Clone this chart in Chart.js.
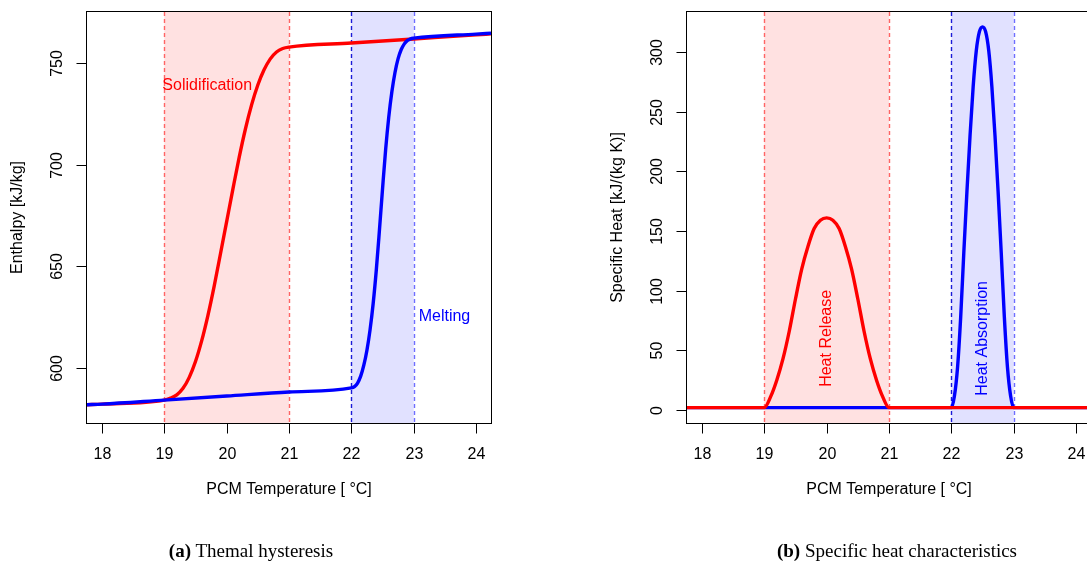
<!DOCTYPE html>
<html>
<head>
<meta charset="utf-8">
<title>PCM hysteresis</title>
<script src="https://cdn.jsdelivr.net/npm/chart.js@4.4.1/dist/chart.umd.min.js"></script>
<style>
    html, body { margin: 0; padding: 0; background: #fff; overflow: hidden; width: 1087px; height: 567px; }
    .panel { position: absolute; top: 0; width: 543px; height: 567px; }
    #panelA { left: 0; }
    #panelB { left: 600px; }
    .caption {
        position: absolute; top: 539px; white-space: nowrap;
        font-family: "Liberation Serif", "Times New Roman", serif; font-size: 19px; color: #000;
        transform: translateX(-50%); line-height: 24px;
    }
</style>
</head>
<body>
<div class="panel" id="panelA"><canvas id="enthalpyChart" width="543" height="567"></canvas></div>
<div class="panel" id="panelB"><canvas id="cpChart" width="543" height="567"></canvas></div>
<div class="caption" style="left:251px;"><b>(a)</b> Themal hysteresis</div>
<div class="caption" style="left:897px;"><b>(b)</b> Specific heat characteristics</div>

<script>
// ── Tick labels ──────────────────────────────────────────────
const TICKS_TEMP     = [18, 19, 20, 21, 22, 23, 24];
const TICKS_ENTHALPY = [600, 650, 700, 750];
const TICKS_CP       = [0, 50, 100, 150, 200, 250, 300];

// ── Phase change ranges [°C] ─────────────────────────────────
const RANGE_SOLID = [19, 21];
const RANGE_MELT  = [22, 23];

// ── (a) Enthalpy, heating branch (melting) ───────────────────
const TEMP_MELT = [17.76, 18, 19, 20, 21, 22,
    22.05, 22.1, 22.15, 22.2, 22.25, 22.3, 22.35, 22.4, 22.45, 22.5,
    22.55, 22.6, 22.65, 22.7, 22.75, 22.8, 22.85, 22.9, 22.95,
    23, 24, 24.24];
const ENTH_MELT = [581.7, 582, 584, 586, 588, 590,
    590.6, 592.4, 595.8, 601.2, 608.6, 618.6, 631.6, 648, 667.5, 688,
    707.5, 723.5, 736, 745.5, 752.3, 756.8, 759.6, 761.3, 762.1,
    762.4, 764.4, 764.8];

// ── (a) Enthalpy, cooling branch (solidification) ────────────
const TEMP_SOLID = [17.76, 18, 19,
    19.1, 19.2, 19.3, 19.4, 19.5, 19.6, 19.7, 19.8, 19.9, 20,
    20.1, 20.2, 20.3, 20.4, 20.5, 20.6, 20.7, 20.8, 20.9,
    21, 22, 23, 24, 24.24];
const ENTH_SOLID = [581.7, 582, 584,
    585, 586.6, 589.8, 595.2, 603, 613.3, 625.8, 640.2, 656, 672,
    688, 703.5, 717.5, 729.5, 739.3, 746.8, 752.2, 755.6, 757.3,
    758, 760, 762, 764, 764.5];

// ── (b) Specific heat, melting ───────────────────────────────
const TEMP_CP_MELT = [17.76, 22,
    22.05, 22.1, 22.15, 22.2, 22.25, 22.3, 22.35, 22.4, 22.45, 22.5,
    22.55, 22.6, 22.65, 22.7, 22.75, 22.8, 22.85, 22.9, 22.95,
    23, 24.24];
const CP_MELT = [2, 2,
    12, 36, 78, 132, 183, 230, 271, 301, 317, 321,
    317, 301, 271, 230, 183, 132, 78, 36, 12,
    2, 2];

// ── (b) Specific heat, solidification ────────────────────────
const TEMP_CP_SOLID = [17.76, 19,
    19.1, 19.2, 19.3, 19.4, 19.5, 19.6, 19.7, 19.8, 19.9, 20,
    20.1, 20.2, 20.3, 20.4, 20.5, 20.6, 20.7, 20.8, 20.9,
    21, 24.24];
const CP_SOLID = [2, 2,
    11, 25, 43, 66, 93, 118, 137, 152, 159, 161,
    159, 152, 137, 118, 93, 66, 43, 25, 11,
    2, 2];

const FONT_SANS = '"Liberation Sans", Arial, Helvetica, sans-serif';
const RED  = '#ff0000';
const BLUE = '#0000ff';

function toPoints(xs, ys) {
    return xs.map((x, i) => ({ x: x, y: ys[i] }));
}

function curve(xs, ys, color) {
    return {
        data: toPoints(xs, ys),
        borderColor: color,
        borderWidth: 3.4,
        cubicInterpolationMode: 'monotone',
        pointRadius: 0,
        fill: false
    };
}

// ── Plugin: shaded ranges, dashed limits, R-style axes ───────
function panelPlugin(p) {
    return {
        id: 'panel',
        beforeDatasetsDraw(chart) {
            const { ctx, chartArea: a, scales: { x } } = chart;
            ctx.save();
            p.bands.forEach(b => {
                const x0 = x.getPixelForValue(b.range[0]);
                const x1 = x.getPixelForValue(b.range[1]);
                ctx.fillStyle = b.fill;
                ctx.fillRect(x0, a.top, x1 - x0, a.bottom - a.top);
            });
            ctx.lineWidth = 1.4;
            ctx.setLineDash([4, 3]);
            p.limits.forEach(l => {
                const px = Math.round(x.getPixelForValue(l.value)) + 0.5;
                ctx.strokeStyle = l.color;
                ctx.beginPath();
                ctx.moveTo(px, a.top);
                ctx.lineTo(px, a.bottom);
                ctx.stroke();
            });
            ctx.restore();
        },
        afterDatasetsDraw(chart) {
            const { ctx, chartArea: a, scales: { x, y } } = chart;
            ctx.save();

            // annotations
            p.notes.forEach(n => {
                ctx.save();
                ctx.font = '16px ' + FONT_SANS;
                ctx.fillStyle = n.color;
                ctx.translate(x.getPixelForValue(n.x) + (n.dx || 0), y.getPixelForValue(n.y));
                if (n.rotate) ctx.rotate(-Math.PI / 2);
                ctx.textAlign = n.align;
                ctx.textBaseline = 'middle';
                ctx.fillText(n.text, 0, 0);
                ctx.restore();
            });

            // box
            ctx.strokeStyle = '#000';
            ctx.lineWidth = 1;
            ctx.setLineDash([]);
            const L = Math.round(a.left) - 0.5, T = Math.round(a.top) - 0.5;
            const R = Math.round(a.right) + 0.5, B = Math.round(a.bottom) + 0.5;
            ctx.strokeRect(L, T, R - L, B - T);

            ctx.fillStyle = '#000';
            ctx.font = '16px ' + FONT_SANS;

            // x axis ticks + labels
            ctx.textAlign = 'center';
            ctx.textBaseline = 'middle';
            TICKS_TEMP.forEach(t => {
                const px = Math.round(x.getPixelForValue(t)) + 0.5;
                ctx.beginPath();
                ctx.moveTo(px, B);
                ctx.lineTo(px, B + 10);
                ctx.stroke();
                ctx.fillText(String(t), px, 455);
            });

            // y axis ticks + labels (rotated, R style)
            p.yTicks.forEach(t => {
                const py = Math.round(y.getPixelForValue(t)) + 0.5;
                ctx.beginPath();
                ctx.moveTo(L, py);
                ctx.lineTo(L - 10, py);
                ctx.stroke();
                ctx.save();
                ctx.translate(58, py);
                ctx.rotate(-Math.PI / 2);
                ctx.fillText(String(t), 0, 0);
                ctx.restore();
            });

            // axis titles
            ctx.fillText('PCM Temperature [ \u00B0C]', (a.left + a.right) / 2, 490);
            ctx.save();
            ctx.translate(18, (a.top + a.bottom) / 2);
            ctx.rotate(-Math.PI / 2);
            ctx.fillText(p.yTitle, 0, 0);
            ctx.restore();

            ctx.restore();
        }
    };
}

function makePanel(canvasId, p) {
    return new Chart(document.getElementById(canvasId), {
        type: 'line',
        data: { datasets: p.datasets },
        options: {
            responsive: false,
            animation: false,
            events: [],
            layout: { padding: { left: 87, top: 12, right: 52, bottom: 144 } },
            plugins: { legend: { display: false }, tooltip: { enabled: false } },
            scales: {
                x: { type: 'linear', display: false, min: 17.76, max: 24.24 },
                y: { type: 'linear', display: false, min: p.yMin, max: p.yMax }
            }
        },
        plugins: [panelPlugin(p)]
    });
}

const BANDS = [
    { range: RANGE_SOLID, fill: '#ffe1e1' },
    { range: RANGE_MELT,  fill: '#e1e1ff' }
];
const LIMITS = [
    { value: RANGE_SOLID[0], color: '#ff6464' },
    { value: RANGE_SOLID[1], color: '#ff6464' },
    { value: RANGE_MELT[0],  color: '#1a1ad8' },
    { value: RANGE_MELT[1],  color: '#6e6eff' }
];

// ── (a) Thermal hysteresis ───────────────────────────────────
makePanel('enthalpyChart', {
    yMin: 572.7, yMax: 775.3,
    yTicks: TICKS_ENTHALPY,
    yTitle: 'Enthalpy [kJ/kg]',
    bands: BANDS, limits: LIMITS,
    notes: [
        { text: 'Solidification', x: 19, dx: -2, y: 739, color: RED, align: 'left' },
        { text: 'Melting', x: 23, dx: 5, y: 625, color: BLUE, align: 'left' }
    ],
    datasets: [
        curve(TEMP_MELT, ENTH_MELT, BLUE),
        curve(TEMP_SOLID, ENTH_SOLID, RED)
    ]
});

// ── (b) Specific heat ────────────────────────────────────────
makePanel('cpChart', {
    yMin: -10.9, yMax: 333.5,
    yTicks: TICKS_CP,
    yTitle: 'Specific Heat [kJ/(kg K)]',
    bands: BANDS, limits: LIMITS,
    notes: [
        { text: 'Heat Release', x: 20, y: 60, color: RED, align: 'center', rotate: true },
        { text: 'Heat Absorption', x: 22.5, y: 60, color: BLUE, align: 'center', rotate: true }
    ],
    datasets: [
        curve(TEMP_CP_SOLID, CP_SOLID, RED),
        curve(TEMP_CP_MELT, CP_MELT, BLUE)
    ]
});
</script>
</body>
</html>
